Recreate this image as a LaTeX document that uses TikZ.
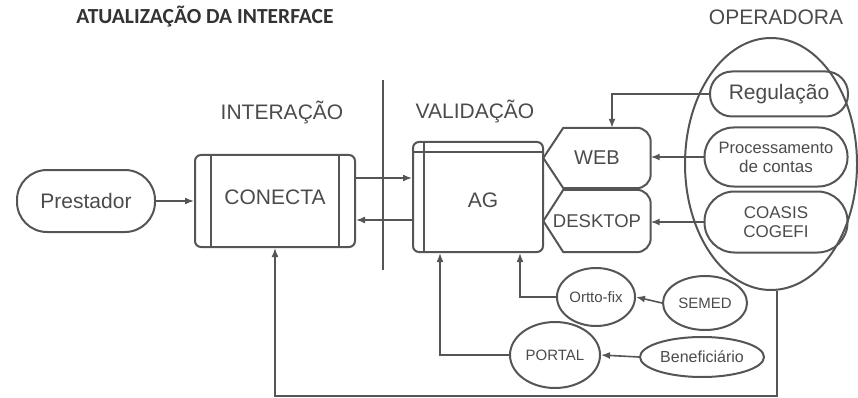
\documentclass[tikz,border=0pt]{standalone}
\usepackage{fontspec}
\setmainfont{Liberation Sans}
\newfontfamily\titlefont{Carlito}
\usetikzlibrary{shapes.geometric,arrows.meta,calc}
\definecolor{ln}{RGB}{85,85,85}
\definecolor{tx}{RGB}{75,75,75}
\begin{document}
\begin{tikzpicture}[x=1pt,y=-1pt,
  every node/.style={text=tx, inner sep=0pt},
  shp/.style={draw=ln, line width=2pt},
  ell/.style={shp, ellipse},
  conn/.style={draw=ln, line width=1.6pt, -{Latex[length=9pt,width=7pt]}},
  big/.style={font=\fontsize{21}{24}\selectfont},
  mid/.style={font=\fontsize{17}{19}\selectfont},
  sml/.style={font=\fontsize{15}{18}\selectfont},
]
\useasboundingbox (0,0) rectangle (858,398);

% headings
\node[text=black!80, font=\titlefont\bfseries\fontsize{21.5}{24}\selectfont] (title) at (205,17) {ATUALIZAÇÃO DA INTERFACE};
\node[big] (lint) at (282,113) {INTERAÇÃO};
\node[big] (lval) at (475,112) {VALIDAÇÃO};
\node[big] (lop) at (776,17) {OPERADORA};

% separator
\coordinate (sepT) at (383,80);
\coordinate (sepB) at (383,270);
\draw[ln, line width=2.5pt] (sepT) -- (sepB);

% Prestador
\node[shp, big, rounded corners=30pt, minimum width=138pt, minimum height=62pt] (prest) at (86,201) {Prestador};

% CONECTA
\node[shp, rounded corners=6pt, minimum width=160pt, minimum height=92pt] (conecta) at (275,201) {};
\draw[ln, line width=2pt] ($(conecta.north west)+(17,0)$) -- ($(conecta.south west)+(17,0)$);
\draw[ln, line width=2pt] ($(conecta.north east)+(-17,0)$) -- ($(conecta.south east)+(-17,0)$);
\node[big] (tconecta) at (275,197) {CONECTA};

% AG
\node[shp, rounded corners=6pt, minimum width=130pt, minimum height=110pt] (ag) at (478,197) {};
\draw[ln, line width=2pt] ($(ag.north west)+(12,0)$) -- ($(ag.south west)+(12,0)$);
\draw[ln, line width=2pt] ($(ag.north west)+(0,11)$) -- ($(ag.north east)+(0,11)$);
\node[big] (tag) at (483,200) {AG};

% WEB and DESKTOP
\node[minimum width=107pt, minimum height=60pt] (web) at (597,158) {};
\draw[shp, line join=round] (web.west) -- ($(web.north west)+(20,0)$) -- ($(web.north east)+(-14,0)$)
  arc[start angle=90,end angle=0,radius=14pt] -- ($(web.south east)+(0,-14)$)
  arc[start angle=0,end angle=-90,radius=14pt] -- ($(web.south west)+(20,0)$) -- cycle;
\node[font=\fontsize{20}{22}\selectfont] (tweb) at (597,158) {WEB};

\node[minimum width=107pt, minimum height=62pt] (desk) at (597,221) {};
\draw[shp, line join=round] (desk.west) -- ($(desk.north west)+(20,0)$) -- ($(desk.north east)+(-14,0)$)
  arc[start angle=90,end angle=0,radius=14pt] -- ($(desk.south east)+(0,-14)$)
  arc[start angle=0,end angle=-90,radius=14pt] -- ($(desk.south west)+(20,0)$) -- cycle;
\node[font=\fontsize{18.5}{22}\selectfont] (tdesk) at (597,221) {DESKTOP};

% OPERADORA
\node[shp, ellipse, minimum width=172pt, minimum height=252pt] (oper) at (771,164) {};
\node[shp, big, rounded corners=22pt, minimum width=138pt, minimum height=45pt] (reg) at (779,94) {Regulação};
\node[shp, mid, rounded corners=29pt, minimum width=143pt, minimum height=59pt, align=center] (proc) at (776,157) {\fontsize{16.5}{21}\selectfont Processamento\\de contas};
\node[shp, mid, rounded corners=30pt, minimum width=143pt, minimum height=61pt, align=center] (coasis) at (776,222) {COASIS\\COGEFI};

% lower ellipses
\node[ell, sml, minimum width=78pt, minimum height=58pt] (ortto) at (596,297) {Ortto-fix};
\node[ell, sml, minimum width=84pt, minimum height=54pt] (semed) at (705,303) {SEMED};
\node[ell, sml, minimum width=90pt, minimum height=66pt] (portal) at (555,355) {PORTAL};
\node[ell, font=\fontsize{16}{18}\selectfont, minimum width=124pt, minimum height=40pt] (benef) at (702,357) {Beneficiário};

% connectors
\draw[conn] (prest.east) -- (conecta.west);
\coordinate (c1) at ($(conecta.east)+(0,-23)$);
\draw[conn] (c1) -- (c1 -| ag.west);
\coordinate (c2) at ($(ag.west)+(0,23)$);
\draw[conn] (c2) -- (c2 -| conecta.east);
\coordinate (wt) at ($(web.north)+(15,0)$);
\draw[conn] (reg.west) -| (wt);
\draw[conn] (proc.west) -- (proc.west -| web.east);
\draw[conn] (coasis.west) -- (coasis.west -| desk.east);
\draw[conn] (semed.west) -- (ortto.east);
\draw[conn] (benef.west) -- (portal.east);
\coordinate (ag1) at ($(ag.south)+(42,0)$);
\draw[conn] (ortto.west) -| (ag1);
\coordinate (ag2) at ($(ag.south)+(-38,0)$);
\draw[conn] (portal.west) -| (ag2);
\coordinate (ob) at ($(oper.south)+(6,105)$);
\draw[conn] ($(oper.south)+(6,0)$) -- (ob) -| (conecta.south);
\end{tikzpicture}
\end{document}
